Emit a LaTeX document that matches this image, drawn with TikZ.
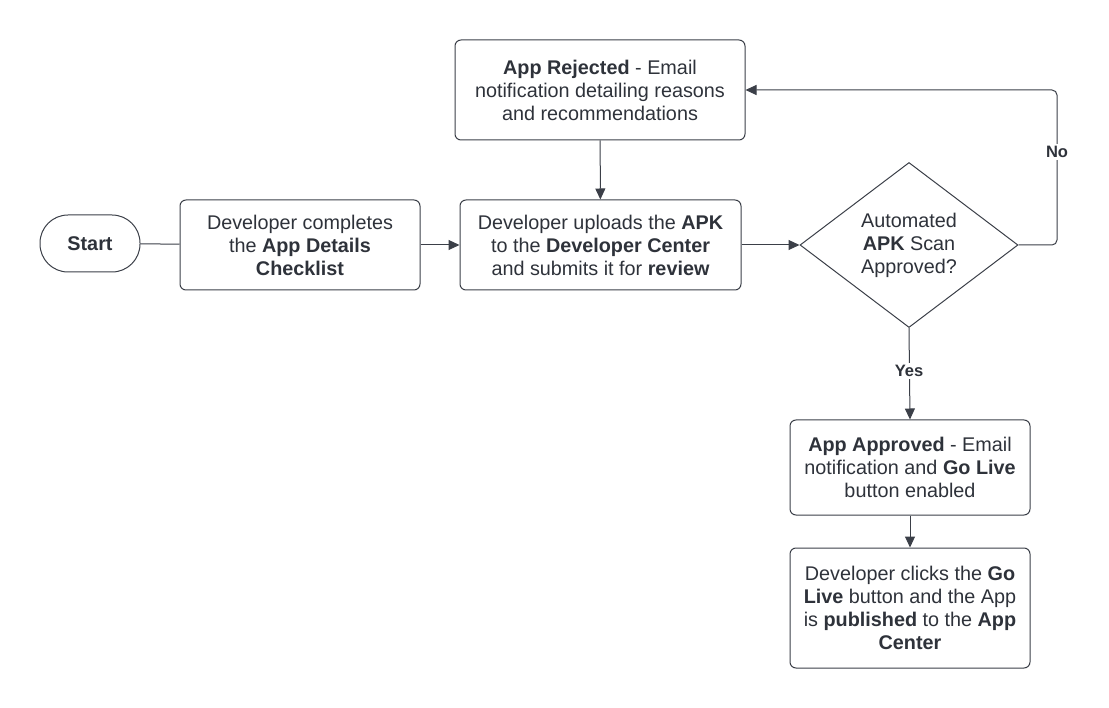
\documentclass[tikz,border=0pt]{standalone}
\usepackage{fontspec}
\setmainfont{Liberation Sans}
\usetikzlibrary{arrows.meta,shapes.geometric}
\definecolor{ln}{HTML}{3B3F48}
\definecolor{tx}{HTML}{2E323A}
\begin{document}
\begin{tikzpicture}[x=1pt,y=-1pt,
  every node/.style={text=tx,font=\fontsize{19.8}{23}\selectfont},
  box/.style={draw=ln,line width=1pt,rounded corners=6pt,align=center,inner sep=0pt},
  conn/.style={draw=ln,line width=1pt},
  arr/.style={conn,-{Triangle[length=11pt,width=10pt]}},
  lbl/.style={fill=white,font=\fontsize{16.5}{19}\selectfont\bfseries,inner sep=2pt}]
\useasboundingbox (0,0) rectangle (1109,708);
\node[box,rounded corners=28pt,minimum width=100pt,minimum height=57pt] (start) at (90,243.5) {\textbf{Start}};
\node[box,minimum width=240pt,minimum height=90pt] (check) at (300,245) {Developer completes\\the \textbf{App Details}\\\textbf{Checklist}};
\node[box,minimum width=281pt,minimum height=90pt] (upload) at (600.5,245) {Developer uploads the \textbf{APK}\\to the \textbf{Developer Center}\\and submits it for \textbf{review}};
\node[box,minimum width=290pt,minimum height=100pt] (reject) at (600,90) {\textbf{App Rejected} - Email\\notification detailing reasons\\and recommendations};
\node[diamond,draw=ln,line width=1pt,minimum width=218pt,minimum height=165pt,inner sep=0pt,align=center] (scan) at (909,245) {Automated\\\textbf{APK} Scan\\Approved?};
\node[box,minimum width=240pt,minimum height=95pt] (approved) at (910,467.5) {\textbf{App Approved} - Email\\notification and \textbf{Go Live}\\button enabled};
\node[box,minimum width=240pt,minimum height=120pt] (golive) at (910,608) {Developer clicks the \textbf{Go}\\\textbf{Live} button and the App\\is \textbf{published} to the \textbf{App}\\\textbf{Center}};
\coordinate (c1) at (1057,245);
\coordinate (c2) at (1057,90);
\draw[conn] (start) -- (check);
\draw[arr] (check) -- (upload);
\draw[arr] (upload) -- (scan);
\draw[arr,rounded corners=5pt] (scan.east) -- (c1) -- (c2) -- (reject.east);
\node[lbl] (no) at (1057,152) {No};
\draw[arr] (reject) -- (upload);
\draw[arr] (scan.south) -- (approved.north);
\node[lbl] (yes) at (909,371) {Yes};
\draw[arr] (approved) -- (golive);
\end{tikzpicture}
\end{document}
